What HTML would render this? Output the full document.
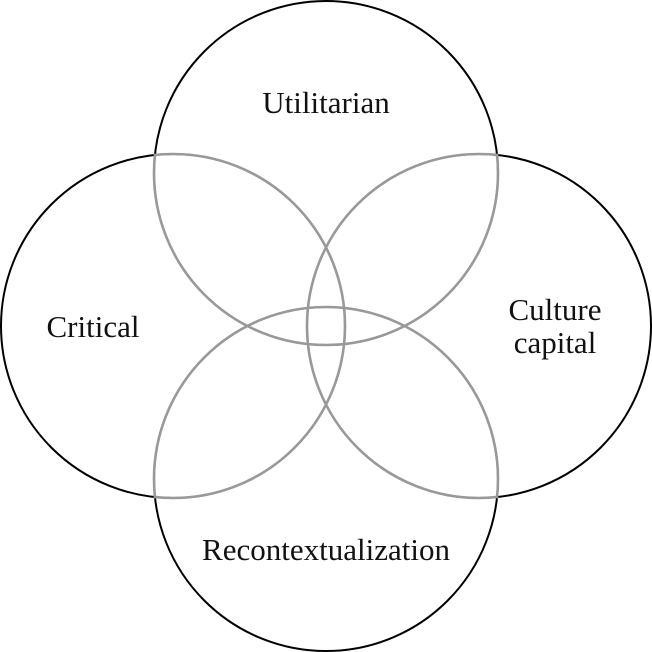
<!DOCTYPE html>
<html><head><meta charset="utf-8"><style>
html,body{margin:0;padding:0;background:#fff;}
svg{display:block;}
text{font-family:"Liberation Serif",serif;font-size:31px;fill:#111;}
</style></head><body>
<svg width="652" height="652" viewBox="0 0 652 652" xmlns="http://www.w3.org/2000/svg">
<defs>
<clipPath id="nT"><circle cx="173" cy="326" r="173"/><circle cx="479" cy="326" r="173"/><circle cx="326" cy="479" r="173"/></clipPath>
<clipPath id="nL"><circle cx="326" cy="173" r="173"/><circle cx="479" cy="326" r="173"/><circle cx="326" cy="479" r="173"/></clipPath>
<clipPath id="nR"><circle cx="326" cy="173" r="173"/><circle cx="173" cy="326" r="173"/><circle cx="326" cy="479" r="173"/></clipPath>
<clipPath id="nB"><circle cx="326" cy="173" r="173"/><circle cx="173" cy="326" r="173"/><circle cx="479" cy="326" r="173"/></clipPath>
</defs>
<g fill="none" stroke="#000" stroke-width="2">
<circle cx="326" cy="173" r="172"/>
<circle cx="173" cy="326" r="172"/>
<circle cx="479" cy="326" r="172"/>
<circle cx="326" cy="479" r="172"/>
</g>
<g fill="none" stroke="#999" stroke-width="2.6">
<circle cx="326" cy="173" r="172" clip-path="url(#nT)"/>
<circle cx="173" cy="326" r="172" clip-path="url(#nL)"/>
<circle cx="479" cy="326" r="172" clip-path="url(#nR)"/>
<circle cx="326" cy="479" r="172" clip-path="url(#nB)"/>
</g>
<text x="326" y="113" text-anchor="middle">Utilitarian</text>
<text x="93" y="337" text-anchor="middle">Critical</text>
<text x="555" y="320" text-anchor="middle">Culture</text>
<text x="555" y="353" text-anchor="middle">capital</text>
<text x="326" y="560" text-anchor="middle">Recontextualization</text>
</svg>
</body></html>
